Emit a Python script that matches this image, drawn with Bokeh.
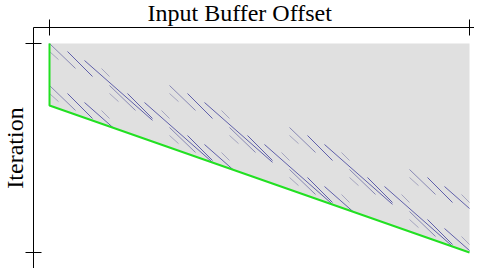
import numpy as np
from bokeh.plotting import figure
from bokeh.models import Range1d, LinearAxis, FixedTicker, Title
from bokeh.embed import file_html
from bokeh.resources import INLINE

# ---- data (offset units, iteration units) ----
offset_ticks = [0, 420]
iter_ticks = [0, 209]

region_offsets = [0, 420, 420, 0]
region_iters = [0, 0, 209, 62]

boundary_offsets = [0, 0, 420]
boundary_iters = [0, 62, 209]

# staircase origins
stair_offsets = [0, 0, 60, 120, 120, 180, 240, 240, 300, 360, 360, 420]
stair_iters = [0, 42, 42, 42, 84, 84, 84, 126, 126, 126, 168, 168]

# template accesses relative to a staircase origin
tmpl_off = [0, 0, 18, 35, 52]
tmpl_it = [0, 8, 8, 17, 25]
tmpl_len = [26, 9, 25, 68, 8]
tmpl_slope = [0.96, 0.9, 1.0, 0.88, 1.0]
tmpl_shade = [1, 0, 2, 2, 0]   # 0 light, 1 medium, 2 dark

# ---- build clipped segments ----
b_slope = (boundary_iters[2] - boundary_iters[1]) / (boundary_offsets[2] - boundary_offsets[1])
b_start = boundary_iters[1]
xmax = offset_ticks[1]

segs = {0: ([], [], [], []), 1: ([], [], [], []), 2: ([], [], [], [])}
for so, si in zip(stair_offsets, stair_iters):
    for to, ti, tl, ts, sh in zip(tmpl_off, tmpl_it, tmpl_len, tmpl_slope, tmpl_shade):
        x0 = so + to
        y0 = si + ti
        if x0 >= xmax:
            continue
        if y0 > b_start + b_slope * x0:
            continue
        t = (b_start + b_slope * x0 - y0) / (ts - b_slope)
        L = min(tl, t, xmax - x0)
        if L <= 0.5:
            continue
        a, b, c, d = segs[sh]
        a.append(x0); b.append(y0); c.append(x0 + L); d.append(y0 + ts * L)

p = figure(width=474, height=268,
           x_range=Range1d(-16, 425), y_range=Range1d(225, -16),
           output_backend="svg", toolbar_location=None,
           min_border_left=33, min_border_right=0, min_border_top=27, min_border_bottom=0,
           x_axis_location=None, y_axis_location=None)
p.outline_line_color = None
p.xgrid.visible = False
p.ygrid.visible = False

p.patch(region_offsets, region_iters, fill_color="#e0e0e0", line_color=None)
colors = {0: "#a6a6c0", 1: "#8888b4", 2: "#6060aa"}
for sh in (0, 1, 2):
    a, b, c, d = segs[sh]
    p.segment(a, b, c, d, line_color=colors[sh], line_width=1)
p.line(boundary_offsets, boundary_iters, line_color="#22e022", line_width=2)

top = LinearAxis(ticker=FixedTicker(ticks=offset_ticks))
left = LinearAxis(ticker=FixedTicker(ticks=iter_ticks))
for ax in (top, left):
    ax.major_tick_in = 8
    ax.major_tick_out = 8
    ax.minor_tick_line_color = None
    ax.major_label_text_font_size = "0px"
    ax.major_label_standoff = 0
    ax.major_label_overrides = {t: "" for t in ax.ticker.ticks}
    ax.axis_line_color = "black"
    ax.major_tick_line_color = "black"
p.add_layout(top, "above")
p.add_layout(left, "left")

p.title.text = "Input Buffer Offset"
p.title.align = "left"
p.title.offset = 114
p.title.standoff = -12
p.title.text_font = "Liberation Serif"
p.title.text_font_style = "normal"
p.title.text_font_size = "24px"
p.title.text_color = "black"

p.add_layout(Title(text="Iteration", align="center", standoff=-8, vertical_align="top",
                   text_font="Liberation Serif", text_font_style="normal",
                   text_font_size="24px", text_color="black"), "left")

open("out.html", "w").write(file_html(p, INLINE))
